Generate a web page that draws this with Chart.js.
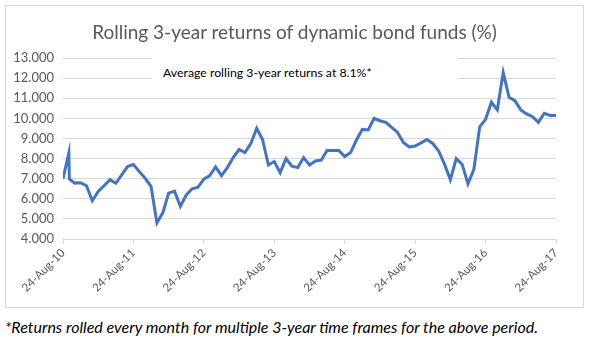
<!DOCTYPE html>
<html>
<head>
<meta charset="utf-8">
<script src="https://cdn.jsdelivr.net/npm/chart.js@4.4.0/dist/chart.umd.min.js"></script>
<style>
  body { margin:0; background:#fff; width:590px; height:350px; position:relative; overflow:hidden; }
  #frame { position:absolute; left:5px; top:5px; width:577px; height:301px; border:1px solid #d9d9d9; background:#fff; }
  #chart { position:absolute; left:0; top:0; }
  #title { position:absolute; left:0; top:14px; width:577px; text-align:center;
           font:19px Lato, "Open Sans", sans-serif; color:#595959; }
  #note { position:absolute; left:146px; top:48px; width:306px; height:28px; background:#fff;
          font:12.3px Lato, "Open Sans", sans-serif; color:#000; }
  #note span { position:absolute; left:11px; top:11px; }
  #foot { position:absolute; left:5px; top:317px; font:italic 16px Lato, "Open Sans", sans-serif; color:#000; }
</style>
</head>
<body>
<div id="frame">
  <canvas id="chart" width="577" height="301"></canvas>
  <div id="title">Rolling 3-year returns of dynamic bond funds (%)</div>
  <div id="note"><span>Average rolling 3-year returns at 8.1%*</span></div>
</div>
<div id="foot">*Returns rolled every month for multiple 3-year time frames for the above period.</div>
<script>
// months since 24-Aug-10
const MONTHS = [0,1,1.08,2,3,4,5,6,7,8,9,10,11,12,13,14,15,16,17,18,19,20,
  21,22,23,24,25,26,27,28,29,30,31,32,33,34,35,36,37,38,39,40,
  41,42,43,44,45,46,47,48,49,50,51,52,53,54,55,56,57,58,59,60,
  61,62,63,64,65,66,67,68,69,70,71,72,73,74,75,76,77,78,79,80,
  81,82,83,84];
const RETURNS = [7.0,8.28,6.98,6.78,6.80,6.65,5.90,6.36,6.65,6.95,6.77,7.19,7.60,7.70,7.35,7.02,6.62,4.80,5.30,6.28,6.38,5.62,
  6.19,6.50,6.58,6.98,7.15,7.58,7.15,7.55,8.05,8.45,8.30,8.75,9.50,8.95,7.68,7.85,7.30,8.00,7.62,7.55,
  8.05,7.68,7.88,7.92,8.40,8.40,8.40,8.10,8.30,8.92,9.45,9.42,10.00,9.88,9.80,9.55,9.30,8.80,8.58,8.62,
  8.78,8.95,8.75,8.38,7.72,6.95,8.00,7.72,6.75,7.45,9.58,9.95,10.80,10.42,12.28,11.05,10.88,10.42,10.22,10.08,
  9.80,10.25,10.14,10.14];
const TICK_LABELS = ['24-Aug-10','24-Aug-11','24-Aug-12','24-Aug-13','24-Aug-14','24-Aug-15','24-Aug-16','24-Aug-17'];
const TICK_MONTHS = [0,12,24,36,48,60,72,84];

const points = MONTHS.map((m,i) => ({ x: m, y: RETURNS[i] }));
const gray = '#595959';

new Chart(document.getElementById('chart'), {
  type: 'line',
  data: { datasets: [{ data: points, borderColor:'#4472C4', borderWidth:3, pointRadius:0, tension:0, fill:false }] },
  options: {
    responsive:false, animation:false,
    layout:{ padding:{ left:0, right:27, top:52, bottom:0 } },
    plugins:{ legend:{ display:false }, tooltip:{ enabled:false } },
    scales:{
      x:{ type:'linear', min:0, max:84,
        afterBuildTicks: s => { s.ticks = TICK_MONTHS.map(v => ({ value:v })); },
        ticks:{ color:gray, font:{ family:'Lato, sans-serif', size:11.5 }, minRotation:45, maxRotation:45, padding:2,
          callback: v => TICK_LABELS[TICK_MONTHS.indexOf(v)] },
        grid:{ drawOnChartArea:false, drawTicks:true, tickLength:5, color:'#d9d9d9' },
        border:{ color:'#d9d9d9' },
        afterFit: s => { s.height = 68; }
      },
      y:{ min:4, max:13,
        ticks:{ stepSize:1, color:gray, font:{ family:'Lato, sans-serif', size:13 }, padding:9,
          callback: v => v.toFixed(3) },
        grid:{ color:'#d9d9d9', drawTicks:false },
        border:{ display:false },
        afterFit: s => { s.width = 57; }
      }
    }
  }
});
</script>
</body>
</html>
